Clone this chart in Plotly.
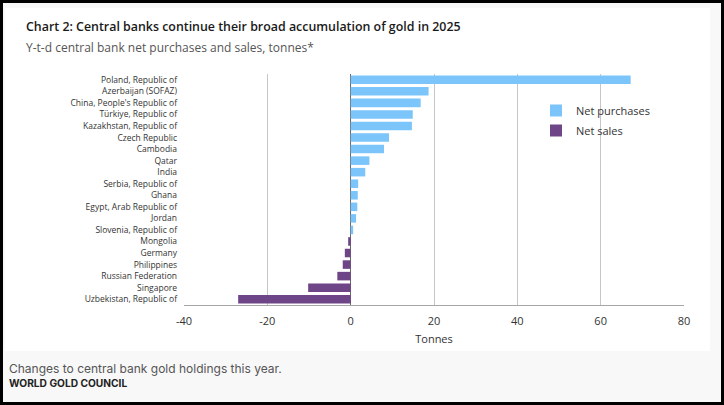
import plotly.graph_objects as go

purchase_countries = ["Poland, Republic of", "Azerbaijan (SOFAZ)", "China, People's Republic of",
                      "Türkiye, Republic of", "Kazakhstan, Republic of", "Czech Republic", "Cambodia",
                      "Qatar", "India", "Serbia, Republic of", "Ghana", "Egypt, Arab Republic of",
                      "Jordan", "Slovenia, Republic of"]
purchase_tonnes = [67.2, 18.7, 16.8, 14.9, 14.7, 9.2, 8.0, 4.5, 3.5, 1.8, 1.7, 1.6, 1.3, 0.6]

sales_countries = ["Mongolia", "Germany", "Philippines", "Russian Federation", "Singapore",
                   "Uzbekistan, Republic of"]
sales_tonnes = [-0.6, -1.4, -1.9, -3.2, -10.2, -27.0]

x_ticks = [-40, -20, 0, 20, 40, 60, 80]
x_tick_labels = ["-40", "-20", "0", "20", "40", "60", "80"]

all_countries = purchase_countries + sales_countries

BLUE = "#7cc5fa"
PURPLE = "#6e4587"

# pixel -> paper helpers (plot area: x 184..684, y 74..305)
L, R, T, B = 184, 684, 74, 305
def px(x):
    return (x - L) / (R - L)
def py(y):
    return (B - y) / (B - T)

fig = go.Figure()
fig.add_trace(go.Bar(y=purchase_countries, x=purchase_tonnes, orientation="h",
                     name="Net purchases", legendgroup="p",
                     marker=dict(color=BLUE, line=dict(width=0)), width=0.74))
fig.add_trace(go.Bar(y=sales_countries, x=sales_tonnes, orientation="h",
                     name="Net sales", legendgroup="s",
                     marker=dict(color=PURPLE, line=dict(width=0)), width=0.74))

fig.update_layout(
    width=724, height=405,
    margin=dict(l=L, r=724 - R, t=T, b=405 - B, pad=0),
    paper_bgcolor="#000000",
    plot_bgcolor="#ffffff",
    barmode="relative",
    font=dict(family="Open Sans", color="#333333"),
    showlegend=True,
    legend=dict(x=px(536), y=py(96), xanchor="left", yanchor="top",
                font=dict(family="Open Sans", size=11, color="#333333"),
                bgcolor="rgba(0,0,0,0)", itemwidth=30, traceorder="grouped",
                tracegroupgap=1),
    xaxis=dict(range=[-40, 80], tickvals=x_ticks, ticktext=x_tick_labels,
               showgrid=True, gridcolor="#c6c6c6", gridwidth=1,
               zeroline=True, zerolinecolor="#6a6a6a", zerolinewidth=1,
               showline=True, linecolor="#a6a6a6", linewidth=1, ticks="",
               tickfont=dict(family="Open Sans", size=11, color="#333333"),
               ticklabelstandoff=6,
               title=dict(text="Tonnes", font=dict(family="Open Sans", size=11, color="#333333"),
                          standoff=8),
               fixedrange=True),
    yaxis=dict(type="category", categoryorder="array", categoryarray=all_countries,
               autorange=False, range=[len(all_countries) - 0.5, -0.5],
               showgrid=False, zeroline=False, showline=False, ticks="",
               tickfont=dict(family="Open Sans", size=8.5, color="#333333"),
               ticklabelstandoff=6, fixedrange=True),
    yaxis2=dict(overlaying="y", anchor="free", position=px(351), type="linear",
                range=[len(all_countries) - 0.5, -0.5], autorange=False,
                tick0=-0.5, dtick=1, ticks="outside", ticklen=3, tickcolor="#7a7a7a",
                showticklabels=False, showgrid=False, zeroline=False, showline=False),
)

shapes = [
    dict(type="rect", xref="paper", yref="paper", x0=px(3), x1=px(721), y0=py(402), y1=py(3),
         fillcolor="#f8f8f8", line=dict(width=0), layer="below"),
    dict(type="rect", xref="paper", yref="paper", x0=px(5), x1=px(710), y0=py(351), y1=py(8),
         fillcolor="#ffffff", line=dict(width=0), layer="below"),
]
fig.update_layout(shapes=shapes)

annotations = [
    dict(text="Chart 2: Central banks continue their broad accumulation of gold in 2025",
         x=px(24), y=py(27), xref="paper", yref="paper", xanchor="left", yanchor="middle",
         showarrow=False, font=dict(family="Open Sans", size=12.4, color="#1a1a1a", weight=600)),
    dict(text="Y-t-d central bank net purchases and sales, tonnes*",
         x=px(24), y=py(47), xref="paper", yref="paper", xanchor="left", yanchor="middle",
         showarrow=False, font=dict(family="Open Sans", size=12, color="#555555")),
    dict(text="Changes to central bank gold holdings this year.",
         x=px(7), y=py(368), xref="paper", yref="paper", xanchor="left", yanchor="middle",
         showarrow=False, font=dict(family="Inter", size=12, color="#555555")),
    dict(text="WORLD GOLD COUNCIL",
         x=px(7), y=py(383), xref="paper", yref="paper", xanchor="left", yanchor="middle",
         showarrow=False, font=dict(family="Inter", size=10.2, color="#222222", weight=700)),
]
fig.update_layout(annotations=annotations)

fig.write_html("out.html", config={"displayModeBar": False},
               post_script="document.body.style.margin='0';document.body.style.padding='0';"
                           "document.documentElement.style.overflow='hidden';")
